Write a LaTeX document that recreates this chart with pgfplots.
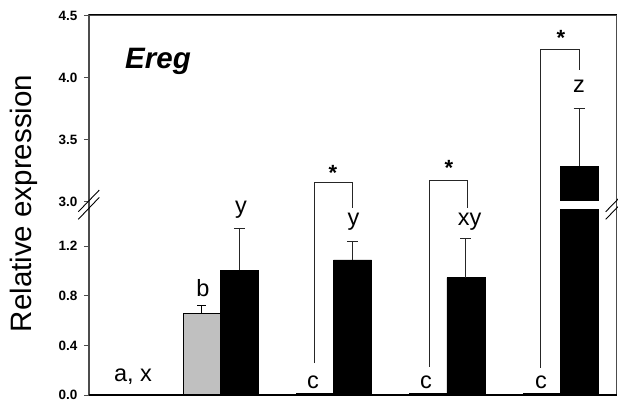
\documentclass[border=0pt]{standalone}
\usepackage{fontspec}
\setmainfont{Liberation Sans}
\usepackage{pgfplots}
\pgfplotsset{compat=1.18}
\definecolor{barg}{RGB}{192,192,192}
\begin{document}
\begin{tikzpicture}
\begin{axis}[
  at={(89bp,10bp)}, anchor=south west,
  scale only axis, width=527.5bp, height=380bp,
  xmin=89, xmax=616.5,
  ymin=0, ymax=3.065,
  xtick=\empty,
  ytick={0,0.4,0.8,1.2,1.56,2.06,2.56,3.06},
  yticklabels={0.0,0.4,0.8,1.2,3.0,3.5,4.0,4.5},
  ytick pos=left, tick align=outside, major tick length=5bp,
  ytick style={black!70, line width=1bp},
  yticklabel style={font=\fontsize{13.5bp}{14bp}\selectfont\bfseries, xshift=-3bp},
  axis line style={black!70, line width=1.1bp},
  clip=false,
]
% gray bars (no visible error)
\addplot[ybar, bar width=37, bar shift=0pt, fill=barg, draw=black, line width=0.6bp]
  coordinates {(113,0) (314.8,0.012) (428,0.012) (541.3,0.012)};
% gray bar with error
\addplot[ybar, bar width=37, bar shift=0pt, fill=barg, draw=black, line width=0.6bp,
  error bars/.cd, y dir=plus, y explicit,
  error bar style={black, line width=0.9bp},
  error mark options={rotate=90, mark size=4.5bp, line width=0.9bp, black}]
  coordinates {(201.7,0.66) +- (0,0.06)};
% black bars (group 1 zero)
\addplot[ybar, bar width=37, bar shift=0pt, fill=black, draw=black, line width=0.6bp]
  coordinates {(151,0)};
\addplot[ybar, bar width=38, bar shift=0pt, fill=black, draw=black, line width=0.6bp,
  error bars/.cd, y dir=plus, y explicit,
  error bar style={black!85, line width=0.9bp},
  error mark options={rotate=90, mark size=5.5bp, line width=0.9bp, black!85}]
  coordinates {(239.3,1.005) +- (0,0.342) (352.5,1.089) +- (0,0.153)
               (465.8,0.946) +- (0,0.314) (579.2,1.847) +- (0,0.462)};
% gap in the broken bar
\fill[white] (axis cs:557,1.50) rectangle (axis cs:601,1.567);
% axis lines
\draw[black, line width=2bp] (axis cs:88.5,0) -- (axis cs:617,0);
\draw[black, line width=1bp] (axis cs:89,3.065) -- (axis cs:616.5,3.065);
% break marks
\draw[black, line width=0.9bp] (axis cs:78.3,1.478) -- (axis cs:99.3,1.653);
\draw[black, line width=0.9bp] (axis cs:78.3,1.417) -- (axis cs:99.3,1.594);
\draw[black, line width=0.9bp] (axis cs:605.7,1.478) -- (axis cs:627,1.655);
\draw[black, line width=0.9bp] (axis cs:605.7,1.417) -- (axis cs:627,1.594);
% brackets
\draw[black!85, line width=0.9bp] (axis cs:314.3,0.258) |- (axis cs:352.7,1.718) -- (axis cs:352.7,1.506);
\draw[black!85, line width=0.9bp] (axis cs:429.3,0.228) |- (axis cs:467.7,1.734) -- (axis cs:467.7,1.506);
\draw[black!85, line width=0.9bp] (axis cs:540.7,0.218) |- (axis cs:579.3,2.788) -- (axis cs:579.3,2.621);
% stars
\node[anchor=base, inner sep=0pt, font=\fontsize{22bp}{24bp}\selectfont\bfseries] at (axis cs:333,1.728) {*};
\node[anchor=base, inner sep=0pt, font=\fontsize{22bp}{24bp}\selectfont\bfseries] at (axis cs:449,1.768) {*};
\node[anchor=base, inner sep=0pt, font=\fontsize{22bp}{24bp}\selectfont\bfseries] at (axis cs:561,2.816) {*};
% letters
\tikzset{lett/.style={anchor=base, inner sep=0pt, font=\fontsize{23.5bp}{25bp}\selectfont}}
\node[lett] at (axis cs:133,0.107) {a, x};
\node[lett] at (axis cs:203,0.798) {b};
\node[lett] at (axis cs:241,1.464) {y};
\node[lett] at (axis cs:313,0.054) {c};
\node[lett] at (axis cs:353.5,1.369) {y};
\node[lett] at (axis cs:426,0.054) {c};
\node[lett] at (axis cs:469.5,1.369) {xy};
\node[lett] at (axis cs:541,0.056) {c};
\node[lett] at (axis cs:579,2.438) {z};
% gene name
\node[anchor=base west, inner sep=0pt, font=\fontsize{29.5bp}{31bp}\selectfont\bfseries\itshape] at (axis cs:125,2.635) {Ereg};
% y label
\node[anchor=base, rotate=90, inner sep=0pt, font=\fontsize{29.5bp}{31bp}\selectfont] at (axis cs:31.7,1.545) {Relative expression};
\end{axis}
\pgfresetboundingbox
\path[use as bounding box] (0,0) rectangle (618bp,405bp);
\end{tikzpicture}
\end{document}
